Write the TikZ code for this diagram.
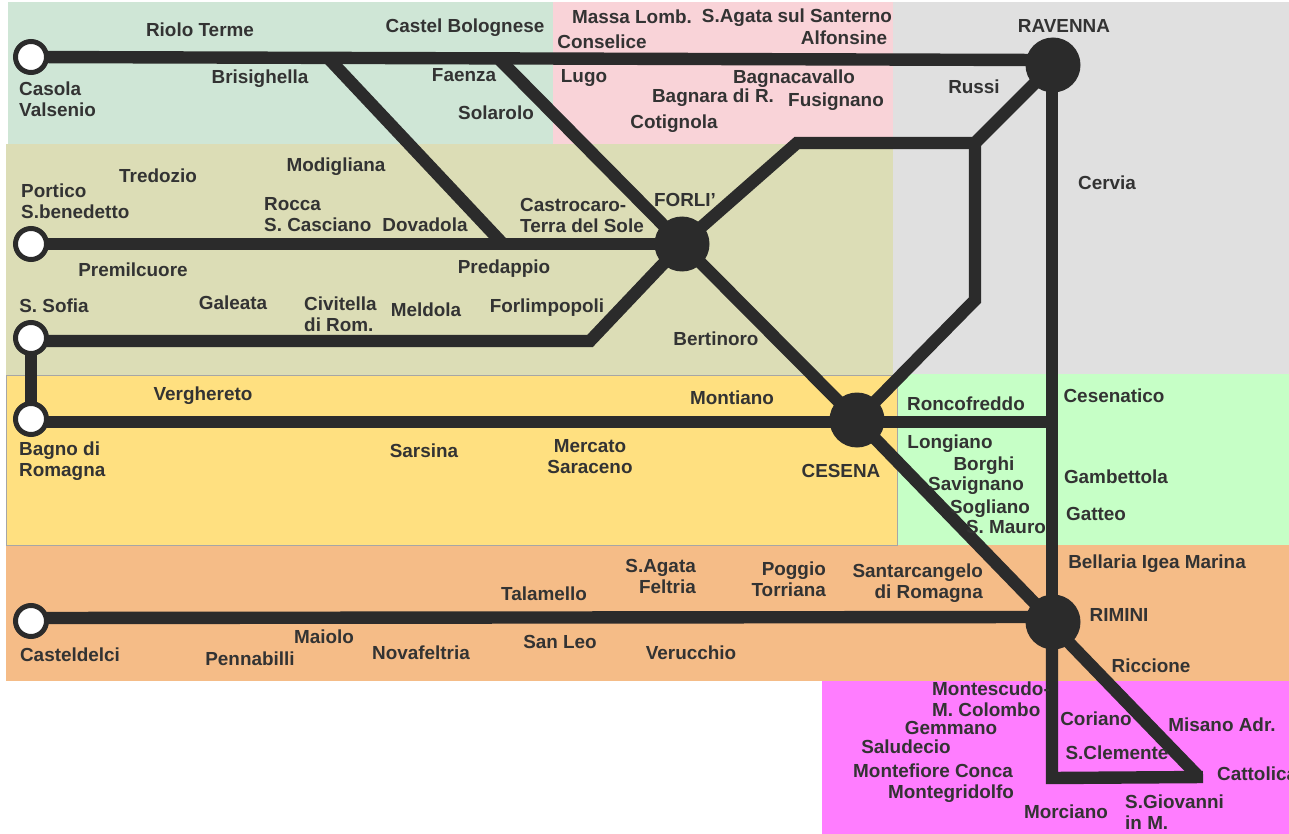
\documentclass[tikz,border=0pt]{standalone}
\usepackage{fontspec}
\setmainfont{Liberation Sans}
\definecolor{ink}{HTML}{2B2B2B}
\definecolor{txt}{HTML}{333333}
\definecolor{zgreen}{HTML}{CFE6D6}
\definecolor{zpink}{HTML}{F9D3D8}
\definecolor{zgray}{HTML}{E0E0E0}
\definecolor{zolive}{HTML}{DCDDB6}
\definecolor{zyellow}{HTML}{FFE080}
\definecolor{zlime}{HTML}{C6FFC6}
\definecolor{zorange}{HTML}{F5BC87}
\definecolor{zmagenta}{HTML}{FF7DFF}
\pgfdeclarelayer{under}
\pgfsetlayers{under,main}
\tikzset{
  track/.style={draw=ink,line width=12.4pt,line join=miter},
  hub/.style={circle,fill=ink,draw=none,minimum size=55pt,inner sep=0pt},
  ring/.style={circle,fill=white,draw=ink,line width=5pt,minimum size=31pt,inner sep=0pt},
  lblbase/.style={font=\fontsize{18.9}{21}\selectfont\bfseries,text=txt,inner sep=0pt},
  lbl/.style={lblbase,text height=13.5pt,text depth=0pt},
  lblc/.style={lblbase,align=center},
  lbll/.style={lblbase,align=left,anchor=west},
  lblr/.style={lblbase,align=right,anchor=east}
}
\newcommand\stext[4]{\node[lbl] (#1) at (#2,-#3) {#4};}
\newcommand\ctext[4]{\node[lblc] (#1) at (#2,-#3) {#4};}
\newcommand\ltext[4]{\node[lbll] (#1) at (#2,-#3) {#4};}
\newcommand\rtext[4]{\node[lblr] (#1) at (#2,-#3) {#4};}
\begin{document}
\begin{tikzpicture}[x=1pt,y=1pt]
\useasboundingbox (0,0) rectangle (1289,-834);
% stations
\node[hub] (ravenna) at (1053,-65) {};
\node[hub] (forli) at (682,-244) {};
\node[hub] (cesena) at (857,-420) {};
\node[hub] (rimini) at (1053,-622) {};
\node[ring] (casola) at (31,-57) {};
\node[ring] (portico) at (31,-244) {};
\node[ring] (sofia) at (31,-338) {};
\node[ring] (bagno) at (31,-419) {};
\node[ring] (casteldelci) at (31,-621) {};
% junctions
\coordinate (ravW) at (1040,-60);
\coordinate (rimW) at (1040,-617);
\coordinate (casE) at (32,-618);
\coordinate (bris) at (330,-60);
\coordinate (faen) at (500,-60);
\coordinate (pred) at (503,-244);
\coordinate (forlW) at (670,-244);
\coordinate (sofiaE) at (32,-341);
\coordinate (sofiaK) at (590,-341);
\coordinate (bagnoE) at (32,-422);
\coordinate (cesW) at (845,-422);
\coordinate (roncJ) at (1052,-422);
\coordinate (cesJ) at (870,-422);
\coordinate (ne1) at (797,-143);
\coordinate (ne2) at (975,-143);
\coordinate (dn) at (975,-300);
\coordinate (vtop) at (1052,-66);
\coordinate (vbot) at (1052,-622);
\coordinate (morc) at (1052,-778);
\coordinate (catt) at (1203,-777);
\coordinate (rimD) at (1049,-622);
\coordinate (cattD) at (1197,-775);
\begin{pgfonlayer}{under}
\fill[white] (0,0) rectangle (1289,-834);
\fill[zgreen] (8,-2) rectangle (553,-144);
\fill[zpink] (553,-2) rectangle (893,-144);
\fill[zgray] (893,-2) rectangle (1289,-374);
\fill[zolive] (6,-144) rectangle (893,-375);
\fill[zlime] (897,-374) rectangle (1289,-545);
\fill[zorange] (6,-545) rectangle (1289,-681);
\fill[zmagenta] (822,-681) rectangle (1289,-834);
\filldraw[fill=zyellow,draw=black!35,line width=1pt] (6,-375) rectangle (897,-545);
% tracks
\draw[track] (casola.center) -- (ravW);
\draw[track] (bris) -- (pred);
\draw[track] (faen) -- (forli.center);
\draw[track] (portico.center) -- (forlW);
\draw[track] (sofiaE) -- (sofiaK) -- (forli.center);
\draw[track] (bagnoE) -- (cesW);
\draw[track] (sofia.center) -- (bagno.center);
\draw[track] (forli.center) -- (cesena.center);
\draw[track] (cesena.center) -- (rimini.center);
\draw[track] (forli.center) -- (ne1) -- (ne2) -- (ravenna.center);
\draw[track] (ne2) -- (dn) -- (cesena.center);
\draw[track] (vtop) -- (vbot);
\draw[track] (cesJ) -- (roncJ);
\draw[track] (casE) -- (rimW);
\draw[track] (vbot) -- (morc) -- (catt);
\draw[track] (rimD) -- (cattD);
\end{pgfonlayer}
% labels
\stext{riolo}{200}{30}{Riolo Terme}
\stext{castelb}{465}{26}{Castel Bolognese}
\stext{massa}{632}{17}{Massa Lomb.}
\stext{sagata}{797}{16}{S.Agata sul Santerno}
\stext{conselice}{602}{42}{Conselice}
\stext{alfonsine}{844}{38}{Alfonsine}
\stext{tRavenna}{1064}{26}{RAVENNA}
\ltext{tCasola}{19}{99}{Casola\\Valsenio}
\stext{brisighella}{260}{77}{Brisighella}
\stext{faenza}{464}{75}{Faenza}
\stext{lugo}{584}{76}{Lugo}
\stext{bagnacavallo}{794}{77}{Bagnacavallo}
\stext{bagnara}{713}{96}{Bagnara di R.}
\stext{fusignano}{836}{100}{Fusignano}
\stext{russi}{974}{87}{Russi}
\stext{solarolo}{496}{113}{Solarolo}
\stext{cotignola}{674}{122}{Cotignola}
\stext{modigliana}{336}{165}{Modigliana}
\stext{tredozio}{158}{176}{Tredozio}
\stext{cervia}{1107}{183}{Cervia}
\ltext{tPortico}{21}{201}{Portico\\S.benedetto}
\stext{tForli}{685}{200}{FORLI'}
\ltext{castrocaro}{520}{215}{Castrocaro-\\Terra del Sole}
\ltext{rocca}{264}{215}{Rocca\\S. Casciano}
\stext{dovadola}{425}{225}{Dovadola}
\stext{premilcuore}{133}{270}{Premilcuore}
\stext{predappio}{504}{267}{Predappio}
\stext{tSofia}{54}{306}{S. Sofia}
\stext{galeata}{233}{303}{Galeata}
\ltext{civitella}{304}{314}{Civitella\\di Rom.}
\stext{meldola}{426}{310}{Meldola}
\stext{forlimpopoli}{547}{306}{Forlimpopoli}
\stext{bertinoro}{716}{339}{Bertinoro}
\stext{verghereto}{203}{394}{Verghereto}
\stext{montiano}{732}{398}{Montiano}
\stext{roncofreddo}{966}{404}{Roncofreddo}
\stext{cesenatico}{1114}{396}{Cesenatico}
\stext{longiano}{950}{442}{Longiano}
\ltext{tBagno}{19}{461}{Bagno di\\Romagna}
\stext{sarsina}{424}{451}{Sarsina}
\ctext{mercato}{590}{457}{Mercato\\Saraceno}
\stext{tCesena}{841}{471}{CESENA}
\stext{borghi}{984}{464}{Borghi}
\stext{savignano}{976}{484}{Savignano}
\stext{gambettola}{1116}{477}{Gambettola}
\stext{sogliano}{990}{507}{Sogliano}
\stext{gatteo}{1096}{514}{Gatteo}
\stext{smauro}{1006}{527}{S. Mauro}
\stext{bellaria}{1157}{562}{Bellaria Igea Marina}
\rtext{sagataf}{696}{576}{S.Agata\\Feltria}
\rtext{poggio}{826}{579}{Poggio\\Torriana}
\rtext{santarc}{983}{583}{Santarcangelo\\di Romagna}
\stext{talamello}{544}{594}{Talamello}
\stext{tRimini}{1119}{615}{RIMINI}
\stext{tCasteldelci}{70}{655}{Casteldelci}
\stext{pennabilli}{250}{659}{Pennabilli}
\stext{maiolo}{324}{637}{Maiolo}
\stext{novafeltria}{421}{653}{Novafeltria}
\stext{sanleo}{560}{642}{San Leo}
\stext{verucchio}{691}{653}{Verucchio}
\stext{riccione}{1151}{666}{Riccione}
\ltext{montescudo}{932}{699}{Montescudo-\\M. Colombo}
\stext{gemmano}{951}{728}{Gemmano}
\stext{saludecio}{906}{747}{Saludecio}
\stext{coriano}{1096}{719}{Coriano}
\stext{misano}{1222}{725}{Misano Adr.}
\stext{sclemente}{1117}{753}{S.Clemente}
\stext{montefiore}{933}{771}{Montefiore Conca}
\node[lbl,anchor=west] (cattolica) at (1217,-774) {Cattolica};
\stext{montegridolfo}{951}{792}{Montegridolfo}
\stext{morciano}{1066}{812}{Morciano}
\ltext{sgiovanni}{1125}{812}{S.Giovanni\\in M.}
\end{tikzpicture}
\end{document}
